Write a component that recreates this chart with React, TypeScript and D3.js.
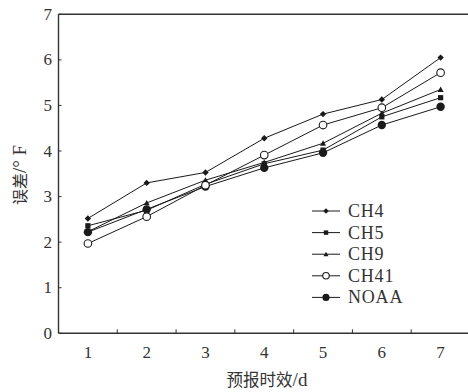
import React from "react";
import * as d3 from "d3";

const days = ["1", "2", "3", "4", "5", "6", "7"];
const yTicks = [0, 1, 2, 3, 4, 5, 6, 7];
const ch4 = [2.52, 3.3, 3.53, 4.28, 4.81, 5.13, 6.05];
const ch5 = [2.36, 2.7, 3.27, 3.72, 4.02, 4.75, 5.17];
const ch9 = [2.23, 2.86, 3.36, 3.75, 4.17, 4.83, 5.35];
const ch41 = [1.97, 2.56, 3.25, 3.91, 4.57, 4.95, 5.72];
const noaa = [2.22, 2.72, 3.22, 3.63, 3.96, 4.57, 4.97];

const seriesNames = ["CH4", "CH5", "CH9", "CH41", "NOAA"];
const seriesValues = [ch4, ch5, ch9, ch41, noaa];
const markerTypes = ["diamond", "square", "triangle", "openCircle", "circle"];

const W = 468;
const H = 392;
const margin = { left: 58.5, top: 14.3, bottom: 333.3, right: 470 };

function Marker({ type, x, y, k = 1 }: { type: string; x: number; y: number; k?: number }) {
  const c = "#1a1a1a";
  if (type === "diamond") {
    const s = 3.2 * k;
    return <path d={`M${x},${y - s}L${x + s},${y}L${x},${y + s}L${x - s},${y}Z`} fill={c} />;
  }
  if (type === "square") {
    const s = 2.6 * k;
    return <rect x={x - s} y={y - s} width={2 * s} height={2 * s} fill={c} />;
  }
  if (type === "triangle") {
    const s = 3 * k;
    return <path d={`M${x},${y - s}L${x + s},${y + s * 0.8}L${x - s},${y + s * 0.8}Z`} fill={c} />;
  }
  if (type === "openCircle") {
    return <circle cx={x} cy={y} r={3.8 * k} fill="#fff" stroke={c} strokeWidth={1.1} />;
  }
  return <circle cx={x} cy={y} r={4.2 * k} fill={c} />;
}

export default function App() {
  const x = d3.scaleBand<string>().domain(days).range([margin.left, margin.right]);
  const y = d3.scaleLinear().domain([0, 7]).range([margin.bottom, margin.top]);
  const cx = (d: string) => (x(d) as number) + x.bandwidth() / 2;
  const line = d3
    .line<number>()
    .x((_, i) => cx(days[i]))
    .y((v) => y(v));

  const serif = "'Liberation Serif', 'DejaVu Serif', serif";
  const cjk = "'Noto Sans CJK SC', 'Liberation Serif', serif";
  const textColor = "#333";
  const legendX = 312;
  const legendY0 = 211;
  const legendStep = 21.6;

  // draw NOAA first so others overlay it
  const order = [4, 0, 1, 2, 3];

  return (
    <svg width={W} height={H} style={{ position: "absolute", left: 0, top: 0, background: "#fff" }}>
      <line x1={margin.left} x2={W} y1={margin.top} y2={margin.top} stroke="#333" strokeWidth={1.4} />
      <line x1={margin.left} x2={W} y1={margin.bottom} y2={margin.bottom} stroke="#333" strokeWidth={1.4} />
      <line x1={margin.left} x2={margin.left} y1={margin.top} y2={margin.bottom} stroke="#333" strokeWidth={1.4} />
      {yTicks.map((t) => (
        <g key={"y" + t}>
          <line x1={margin.left} x2={margin.left + 3} y1={y(t)} y2={y(t)} stroke="#333" strokeWidth={1} />
          <text x={52} y={y(t) + 5.5} textAnchor="end" fontFamily={serif} fontSize={17} fill={textColor}>
            {t}
          </text>
        </g>
      ))}
      {days.slice(1).map((d) => (
        <line key={"xt" + d} x1={x(d)} x2={x(d)} y1={margin.bottom} y2={margin.bottom - 4} stroke="#333" strokeWidth={1} />
      ))}
      {days.map((d) => (
        <text key={"xl" + d} x={cx(d)} y={358} textAnchor="middle" fontFamily={serif} fontSize={17} fill={textColor}>
          {d}
        </text>
      ))}
      <text x={267} y={386} textAnchor="middle" fontFamily={cjk} fontSize={16.5} fill={textColor}>
        预报时效
        <tspan fontFamily={serif} fontSize={19}>/d</tspan>
      </text>
      <text
        transform={`translate(26,175) rotate(-90)`}
        textAnchor="middle"
        fontFamily={cjk}
        fontSize={16}
        fill={textColor}
      >
        误差
        <tspan fontFamily={serif} fontSize={19}>/° F</tspan>
      </text>
      {order.map((si) => {
        const vals = seriesValues[si];
        return (
          <g key={"s" + si}>
            <path d={line(vals) as string} fill="none" stroke="#1a1a1a" strokeWidth={1} />
            {vals.map((v, i) => (
              <Marker key={i} type={markerTypes[si]} x={cx(days[i])} y={y(v)} />
            ))}
          </g>
        );
      })}
      {seriesNames.map((n, i) => {
        const ly = legendY0 + i * legendStep;
        return (
          <g key={"l" + n}>
            <line x1={legendX} x2={legendX + 28} y1={ly} y2={ly} stroke="#1a1a1a" strokeWidth={1} />
            <Marker type={markerTypes[i]} x={legendX + 14} y={ly} k={0.85} />
            <text x={348} y={ly + 6} fontFamily={serif} fontSize={18} letterSpacing={0.8} fill={textColor}>
              {n}
            </text>
          </g>
        );
      })}
    </svg>
  );
}
